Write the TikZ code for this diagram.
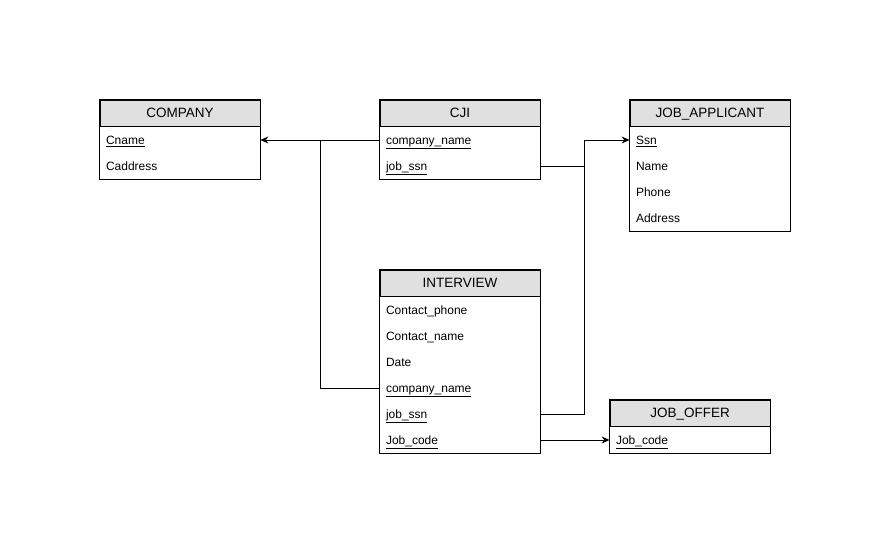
\documentclass[tikz,border=0pt]{standalone}
\usepackage{fontspec}
\setmainfont{Liberation Sans}
\usetikzlibrary{arrows.meta}
\tikzset{
  tblhead/.style={draw, fill=black!12, minimum width=160pt, minimum height=26pt,
    inner sep=0pt, text height=11pt, text depth=2pt, font=\fontsize{13.5}{16}\selectfont},
  tblrow/.style={minimum width=160pt, minimum height=26pt, text width=148pt,
    inner sep=6pt, align=left, text height=10pt, text depth=1.5pt,
    font=\fontsize{12}{14}\selectfont},
  tblbox/.style={draw},
  fk/.style={-{Stealth[length=8pt,width=7pt]}}
}
\begin{document}
\begin{tikzpicture}[x=1pt, y=-1pt, line width=0.8pt]
  \path[fill=white] (0,0) rectangle (891,556);
  \useasboundingbox (0,0) rectangle (891,556);
  % COMPANY
  \node[tblhead] (company) at (180,113) {COMPANY};
  \node[tblrow] (company-cname) at (180,140) {\underline{Cname}};
  \node[tblrow] (company-addr) at (180,166) {Caddress};
  \draw[tblbox] (company.north west) rectangle (company-addr.south east);
  % CJI
  \node[tblhead] (cji) at (460,113) {CJI};
  \node[tblrow] (cji-cname) at (460,140) {\underline{company\_name}};
  \node[tblrow] (cji-ssn) at (460,166) {\underline{job\_ssn}};
  \draw[tblbox] (cji.north west) rectangle (cji-ssn.south east);
  % JOB_APPLICANT
  \node[tblhead] (app) at (710,113) {JOB\_APPLICANT};
  \node[tblrow] (app-ssn) at (710,140) {\underline{Ssn}};
  \node[tblrow] (app-name) at (710,166) {Name};
  \node[tblrow] (app-phone) at (710,192) {Phone};
  \node[tblrow] (app-addr) at (710,218) {Address};
  \draw[tblbox] (app.north west) rectangle (app-addr.south east);
  % INTERVIEW
  \node[tblhead] (int) at (460,283) {INTERVIEW};
  \node[tblrow] (int-phone) at (460,310) {Contact\_phone};
  \node[tblrow] (int-name) at (460,336) {Contact\_name};
  \node[tblrow] (int-date) at (460,362) {Date};
  \node[tblrow] (int-cname) at (460,388) {\underline{company\_name}};
  \node[tblrow] (int-ssn) at (460,414) {\underline{job\_ssn}};
  \node[tblrow] (int-code) at (460,440) {\underline{Job\_code}};
  \draw[tblbox] (int.north west) rectangle (int-code.south east);
  % JOB_OFFER
  \node[tblhead] (off) at (690,413) {JOB\_OFFER};
  \node[tblrow] (off-code) at (690,440) {\underline{Job\_code}};
  \draw[tblbox] (off.north west) rectangle (off-code.south east);
  % references
  \coordinate (jc) at (320,140);
  \coordinate (js) at (584,140);
  \begin{scope}[line width=0.8pt]
    \draw[fk] (cji-cname.west) -- (company-cname.east);
    \draw (int-cname.west) -| (jc);
    \draw[fk] (cji-ssn.east) -| (js) -- (app-ssn.west);
    \draw (int-ssn.east) -| (js);
    \draw[fk] (int-code.east) -- (off-code.west);
  \end{scope}
\end{tikzpicture}
\end{document}
